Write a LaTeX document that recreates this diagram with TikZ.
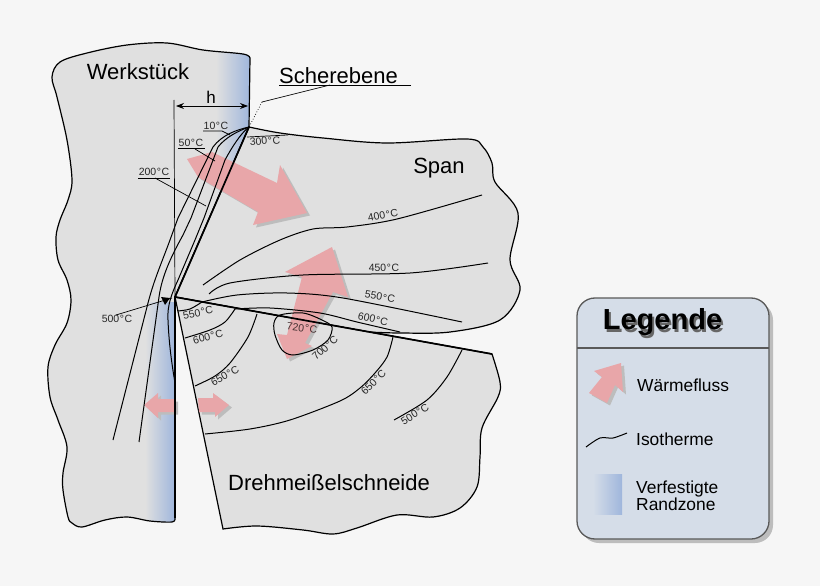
\documentclass[tikz,border=0pt]{standalone}
\usepackage{fontspec}
\usetikzlibrary{arrows.meta}
\setmainfont{Liberation Sans}
\definecolor{bgc}{HTML}{F6F6F6}
\definecolor{partc}{HTML}{E0E0E0}
\definecolor{bluec}{HTML}{9FB6DC}
\definecolor{legc}{HTML}{D5DDE8}
\definecolor{flowc}{HTML}{E8A6A9}
\definecolor{shadowc}{HTML}{BDBDBD}
\newcommand{\gradC}{\kern0.6pt°\kern0.6pt C}
\def\wpath{(175,297) -- (175,518) -- plot[smooth, tension=0.55] coordinates {(175,518) (172,522) (150,521) (127,517) (105,520) (82,527) (72,523) (68,517) (63,490) (63,473) (67,447) (58,420) (50,397) (48,367) (55,345) (67,323) (71,300) (67,280) (58,260) (56,237) (60,220) (68,200) (72,180) (67,140) (57,97) (52,77) (60,62) (87,53) (127,45) (167,43) (203,50) (243,54) (250,58)} -- (249,127) -- cycle}
\def\flowa{(187,159) -- (212,152) -- (277,183) -- (280,165) -- (307,213) -- (253,225) -- (258,212) -- (198,177) -- cycle}
\def\flowb{(332,247) -- (285,272) -- (302,277) -- (287,335) -- (277,334) -- (287,359) -- (312,346) -- (305,343) -- (333,292) -- (348,297) -- cycle}
\def\flowc{(175,399) -- (158,399) -- (158,393) -- (144,405) -- (158,418) -- (158,412) -- (175,412) -- cycle}
\def\flowd{(198,398) -- (213,398) -- (213,393) -- (229,405) -- (215,417) -- (215,412) -- (199,412) -- cycle}
\def\flowe{(621,363) -- (594,371) -- (602,377) -- (589,393) -- (607,403) -- (615,385) -- (623,392) -- cycle}
\tikzset{
  outline/.style={draw=black, line width=1.2pt, fill=partc},
  iso/.style={line width=1pt},
  shear/.style={line width=1.7pt},
  thinl/.style={line width=0.7pt},
  flow/.style={fill=flowc},
  flowshadow/.style={fill=shadowc, shift={(3,2.5)}},
  bigt/.style={font=\fontsize{22}{24}\selectfont, inner sep=0pt},
  legt/.style={font=\fontsize{17.4}{17}\selectfont, inner sep=0pt, align=left, anchor=west},
  deg/.style={font=\fontsize{10.5}{12}\selectfont, inner sep=0pt, text=black!85},
}
\begin{document}
\begin{tikzpicture}[x=1pt, y=-1pt]
\useasboundingbox (0,0) rectangle (820,586);
\fill[bgc] (0,0) rectangle (820,586);
\coordinate (tip) at (249,127);
\coordinate (wedge) at (175,297);
% work piece with its blue zone
\path[fill=partc] \wpath;
\begin{scope}
\clip \wpath;
\shade[left color=partc, right color=bluec] (216,40) rectangle (250,200);
\shade[left color=partc, right color=bluec] (145,302) rectangle (175,530);
\end{scope}
\draw[line width=1.2pt, line join=round] \wpath;
% chip
\draw[outline] (tip) -- plot[smooth, tension=0.55] coordinates {(249,127) (280,133) (323,138) (387,143) (467,139) (483,147) (492,163) (495,182) (518,213) (510,260) (520,290) (500,320) (450,332) (400,333) (368,332)} -- (wedge) -- cycle;
% tool
\draw[outline] (wedge) -- (223,529) -- plot[smooth, tension=0.55] coordinates {(223,529) (257,526) (303,530) (333,534) (357,528) (397,515) (433,517) (460,508) (477,487) (480,457) (482,428) (498,397) (500,382) (492,354)} -- cycle;
% heat flow
\foreach \f in {\flowa,\flowb,\flowc,\flowd} {
  \path[flowshadow] \f;
  \path[flow] \f;
}
% isotherms in the work piece
\draw[iso] (tip) .. controls (236,130) and (222,135) .. (213,147) -- (178,218) -- (170,240) .. controls (160,267) and (154,280) .. (148,303) -- (113,440);
\draw[iso] (tip) .. controls (238,131) and (226,137) .. (218,147) -- (191,218) -- (183,235) .. controls (172,255) and (162,275) .. (159,297) -- (139,442);
\draw[iso] (tip) .. controls (241,133) and (232,147) .. (225,160) -- (204,218) -- (195,240) -- (178,280) .. controls (172,293) and (167,305) .. (168,320) .. controls (169,345) and (172,365) .. (175,383);
\draw[shear] (tip) -- (wedge);
\draw[line width=1.7pt] (wedge) -- (175,518);
% isotherms in the chip
\draw[iso] plot[smooth] coordinates {(203,285) (240,260) (280,240) (313,229) (347,227) (397,219) (482,195)};
\draw[iso] plot[smooth] coordinates {(209,294) (230,283) (303,275) (410,273) (488,263)};
\draw[iso] plot[smooth] coordinates {(202,302) (237,295) (287,293) (343,298) (462,322)};
\draw[iso] plot[smooth] coordinates {(235,309) (270,308) (320,313) (357,322) (400,332)};
% isotherms in the tool
\draw[iso] plot[smooth] coordinates {(178,311) (190,309) (202,302)};
\draw[iso] plot[smooth] coordinates {(185,338) (210,330) (225,322) (235,309)};
\draw[iso] plot[smooth] coordinates {(257,314) (248,337) (230,363) (215,376) (195,386)};
\draw[iso] plot[smooth cycle] coordinates {(280,315) (303,313) (322,320) (332,327) (328,340) (313,350) (293,355) (282,350) (275,335) (274,323)};
\draw[iso] plot[smooth] coordinates {(393,337) (387,357) (375,373) (360,388) (340,401) (290,420) (250,429) (205,434)};
\draw[iso] plot[smooth] coordinates {(462,350) (447,377) (427,400) (394,420)};
\draw[shear] (wedge) -- (492,354);
% texts
\node (werk) [bigt] at (138,72) {Werkstück};
\node (span) [bigt] at (439,168) {Span};
\node (dreh) [bigt] at (329,483) {Drehmeißelschneide};
\node (scher) [bigt] at (338.5,76) {Scherebene};
\node (hh) [font=\fontsize{17}{18}\selectfont, inner sep=0pt] at (211,97) {h};
\coordinate (sa) at (411,85);
\coordinate (sb) at (279,85);
\coordinate (sc) at (330,85);
\coordinate (sd) at (262,102);
\draw[thinl] (sa) -- (sb);
\draw[thinl] (sc) -- (sd);
\draw[thinl, dotted] (sd) -- (tip);
\draw[thinl] (174,100) -- (wedge);
\draw[arrows={Stealth[length=8pt,width=6pt]-Stealth[length=8pt,width=6pt]}, line width=0.8pt] (176,106) -- (248,106);
% labels with leaders
\node (n10) [deg] at (216,126) {10\gradC};
\draw[thinl] (203,131) -- (222,131) -- (230,135);
\node (n50) [deg] at (191,143) {50\gradC};
\draw[thinl] (178,148.5) -- (205,148.5);
\draw[thinl] (195,149) -- (215,161);
\node (n200) [deg] at (154,172) {200\gradC};
\draw[thinl] (138,178) -- (170,178);
\draw[thinl] (155,178) -- (206,206);
\node (n300) [deg, rotate=4] at (265,141) {300\gradC};
\draw[thinl] (247,137) -- (288,135);
\node (n500a) [deg] at (117,319) {500\gradC};
\draw[thinl] (116,315) -- (172,298);
\fill (161,297) -- (170,298) -- (165,305) -- cycle;
\node (n400) [deg, rotate=11] at (383,215) {400\gradC};
\node (n450) [deg, rotate=1] at (384,268) {450\gradC};
\node (n550a) [deg, rotate=-10] at (380,297) {550\gradC};
\node (n600a) [deg, rotate=-12] at (373,319) {600\gradC};
\node (n550b) [deg, rotate=12] at (198,313) {550\gradC};
\node (n600b) [deg, rotate=15] at (208,337) {600\gradC};
\node (n650a) [deg, rotate=30] at (225,376) {650\gradC};
\node (n720) [deg, rotate=-8, text=black!70!flowc] at (302,328) {720\gradC};
\node (n700) [deg, rotate=42] at (325,348) {700\gradC};
\node (n650b) [deg, rotate=45] at (373.5,382) {650\gradC};
\node (n500b) [deg, rotate=32] at (415,414) {500\gradC};
% legend
\fill[shadowc] (581,302) [rounded corners=18pt] rectangle (773,543);
\draw[fill=legc, draw=black!65, line width=1.3pt, rounded corners=18pt] (577,298) rectangle (769,539);
\draw[draw=black!65, line width=1.1pt] (577,348) -- (769,348);
\node (legs) [font=\bfseries\fontsize{29}{30}\selectfont, inner sep=0pt, text=black!60] at (664.5,325) {Legende};
\node (leg) [font=\bfseries\fontsize{29}{30}\selectfont, inner sep=0pt] at (662.5,322.5) {Legende};
\path[flowshadow] \flowe;
\path[flow] \flowe;
\node (lw) [legt] at (637,385) {Wärmefluss};
\draw[iso] plot[smooth] coordinates {(586,447) (600,438) (613,438) (627,433)};
\node (li) [legt] at (636,439) {Isotherme};
\shade[left color=legc, right color=bluec] (593,474) rectangle (622,514);
\node (lv) [legt] at (636,495.5) {Verfestigte\\Randzone};
\end{tikzpicture}
\end{document}
